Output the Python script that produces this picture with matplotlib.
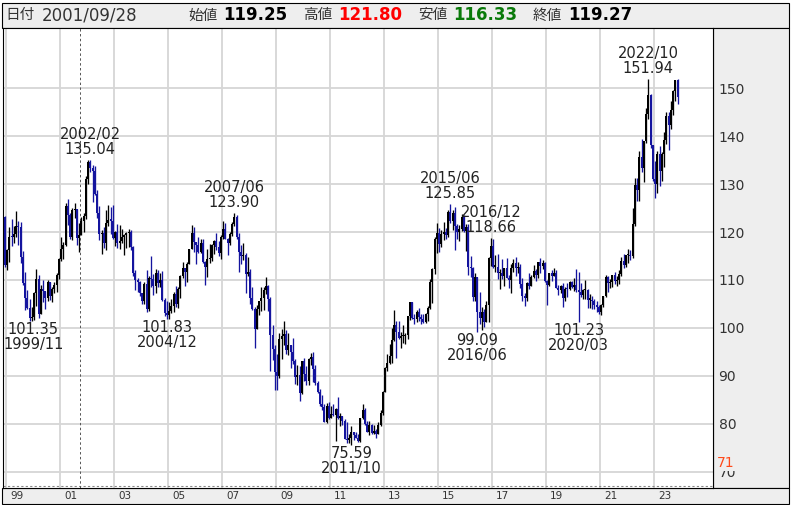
import numpy as np
import matplotlib
matplotlib.use('Agg')
import matplotlib.pyplot as plt
from matplotlib.patches import Rectangle
from matplotlib import transforms

##########################################################################
# data : USD/JPY monthly candles, first bar = 1998/12
##########################################################################
start_year, start_month = 1998, 12
first_open = 123.2

closes = [113.1,
    116.2, 119.0, 118.9, 119.5, 121.3, 121.0, 114.7, 109.4, 106.2, 104.2, 102.1, 102.2,
    107.2, 110.2, 102.8, 108.2, 107.6, 106.2, 109.5, 106.7, 108.0, 109.0, 111.0, 114.4,
    116.4, 117.3, 125.5, 123.6, 119.0, 124.6, 124.7, 118.8, 119.4, 122.3, 123.4, 131.0,
    134.6, 133.4, 132.8, 128.0, 124.0, 119.6, 119.7, 117.8, 121.8, 122.5, 122.4, 118.8,
    119.9, 117.7, 118.1, 118.9, 119.4, 119.7, 119.9, 116.9, 111.4, 110.0, 109.5, 107.2,
    105.5, 109.1, 103.9, 110.4, 110.2, 108.8, 111.5, 109.3, 110.0, 105.8, 103.1, 102.6,
    103.6, 104.6, 107.1, 104.9, 108.2, 110.9, 112.5, 111.6, 113.4, 116.4, 119.7, 117.9,
    117.2, 115.8, 117.7, 113.7, 112.6, 114.4, 114.6, 117.3, 118.1, 116.9, 115.7, 119.0,
    120.7, 118.6, 117.8, 119.5, 121.7, 123.2, 118.9, 115.8, 114.9, 115.3, 111.2, 111.7,
    106.3, 103.9, 99.7, 103.9, 105.5, 106.2, 107.8, 108.8, 106.0, 98.5, 95.5, 90.7,
    89.9, 97.6, 98.3, 98.7, 95.3, 96.4, 95.0, 93.0, 89.7, 90.1, 86.3, 93.0,
    90.3, 89.0, 93.5, 93.9, 91.3, 88.4, 86.5, 84.2, 83.5, 80.4, 83.7, 81.2,
    82.1, 81.8, 83.1, 81.2, 81.5, 80.5, 76.7, 76.6, 77.0, 78.2, 77.6, 76.9,
    76.3, 81.2, 82.8, 80.0, 78.3, 79.8, 78.1, 78.4, 77.9, 79.8, 82.2, 86.7,
    91.7, 92.6, 94.2, 97.5, 100.5, 99.1, 97.9, 98.2, 98.3, 98.4, 102.4, 105.3,
    102.0, 101.8, 103.2, 102.3, 101.8, 101.3, 102.8, 104.1, 109.6, 112.3, 118.6, 119.8,
    117.5, 119.6, 120.1, 119.4, 124.1, 122.4, 124.0, 121.2, 119.9, 120.6, 123.2, 120.2,
    121.0, 112.6, 112.5, 106.5, 110.7, 103.2, 102.1, 103.4, 101.3, 104.8, 114.5, 117.0,
    112.8, 112.8, 111.4, 111.5, 110.8, 112.4, 110.3, 110.0, 112.5, 113.6, 112.5, 112.7,
    109.2, 106.7, 106.3, 109.3, 108.8, 110.7, 111.9, 111.0, 113.7, 112.9, 113.5, 109.7,
    108.9, 111.4, 110.8, 111.4, 108.3, 107.9, 108.7, 106.3, 108.1, 108.0, 109.5, 108.6,
    108.9, 107.9, 107.5, 106.9, 107.8, 107.9, 105.9, 105.9, 105.5, 104.7, 104.3, 103.3,
    104.7, 106.6, 110.7, 109.3, 109.6, 111.1, 109.7, 110.0, 111.3, 114.0, 113.2, 115.1,
    115.1, 115.0, 121.7, 129.9, 128.7, 135.7, 133.3, 138.9, 144.7, 148.7, 138.1, 131.1,
    130.1, 136.2, 132.8, 136.3, 139.3, 144.3, 142.3, 145.5, 149.4, 151.7, 148.2]

highs = [123.4,
    116.4, 121.0, 122.7, 121.2, 124.3, 122.4, 122.0, 116.0, 111.6, 107.8, 106.0, 104.4,
    107.4, 112.2, 111.0, 108.9, 110.0, 107.7, 110.0, 109.6, 108.5, 109.5, 111.5, 114.6,
    119.0, 118.0, 126.0, 126.8, 124.0, 125.0, 126.0, 124.7, 121.8, 123.1, 124.0, 131.7,
    135.0, 135.04, 134.0, 133.8, 128.8, 125.5, 120.4, 121.0, 124.5, 125.7, 125.2, 125.7,
    120.2, 121.7, 121.5, 120.6, 119.5, 120.0, 120.6, 120.5, 117.1, 112.0, 110.5, 109.8,
    107.3, 109.6, 112.0, 110.9, 114.9, 111.3, 112.3, 112.0, 111.4, 111.8, 106.3, 105.5,
    105.3, 106.0, 107.5, 108.8, 108.6, 111.0, 113.7, 112.4, 113.8, 116.4, 121.4, 121.0,
    117.9, 119.0, 118.5, 118.6, 114.0, 116.5, 117.5, 117.4, 118.3, 119.8, 118.2, 119.4,
    122.2, 121.9, 118.8, 119.9, 122.0, 123.9, 123.6, 119.7, 117.2, 117.8, 115.6, 114.7,
    112.2, 108.6, 104.4, 104.8, 105.6, 108.6, 108.6, 110.7, 108.9, 106.5, 100.5, 96.5,
    94.6, 98.9, 99.7, 101.4, 99.5, 98.9, 96.0, 97.8, 93.4, 92.3, 92.0, 93.0,
    93.8, 92.0, 93.7, 94.7, 94.9, 92.2, 88.9, 87.2, 86.0, 84.1, 84.4, 84.5,
    83.7, 84.0, 83.3, 85.5, 82.2, 81.6, 81.0, 80.3, 77.9, 79.5, 78.3, 78.3,
    77.8, 81.2, 84.2, 83.3, 80.6, 80.6, 79.9, 79.7, 78.9, 80.4, 82.8, 86.8,
    91.8, 94.5, 96.7, 99.9, 103.7, 101.5, 101.5, 99.1, 100.6, 99.0, 102.5, 105.4,
    105.4, 102.8, 103.8, 104.1, 102.8, 102.8, 103.1, 104.5, 110.1, 112.4, 119.0, 121.9,
    120.8, 120.5, 122.0, 120.8, 124.5, 125.85, 124.6, 125.3, 121.7, 121.5, 123.8, 123.6,
    121.7, 121.7, 114.9, 112.7, 111.4, 110.5, 107.5, 104.3, 104.0, 105.5, 114.8, 118.66,
    118.6, 115.2, 115.5, 112.2, 114.4, 112.5, 114.5, 111.0, 113.3, 114.4, 114.7, 113.7,
    113.4, 110.5, 107.3, 109.6, 111.4, 111.0, 113.2, 112.2, 113.8, 114.5, 114.2, 113.8,
    110.0, 111.5, 112.1, 112.4, 112.0, 109.0, 109.0, 109.3, 108.5, 109.3, 109.7, 109.7,
    110.3, 112.2, 111.7, 109.4, 108.1, 109.9, 108.2, 107.0, 106.6, 106.1, 105.7, 104.7,
    104.9, 106.7, 110.97, 110.9, 110.2, 111.1, 111.65, 110.8, 112.1, 114.7, 115.5, 115.2,
    116.35, 116.3, 125.1, 131.25, 131.3, 137.0, 139.4, 139.1, 145.9, 151.94, 148.8, 138.2,
    134.8, 136.9, 137.9, 136.6, 140.9, 145.0, 145.1, 147.4, 149.7, 151.7, 151.9]

lows = [112.6,
    112.0, 113.8, 117.0, 117.8, 119.0, 117.3, 113.6, 109.0, 103.7, 104.0, 101.35, 101.5,
    101.6, 104.6, 102.0, 103.6, 105.4, 103.9, 105.6, 105.8, 105.3, 107.2, 107.5, 110.2,
    114.0, 114.3, 117.0, 121.5, 118.6, 118.3, 123.0, 117.2, 115.8, 119.5, 119.9, 122.8,
    130.0, 132.5, 126.3, 127.8, 122.9, 118.4, 115.5, 116.7, 116.2, 121.3, 119.5, 118.5,
    117.1, 116.7, 116.4, 117.7, 115.3, 116.7, 116.9, 116.2, 110.9, 107.9, 107.5, 106.7,
    105.0, 104.9, 103.4, 103.5, 108.6, 106.9, 107.3, 108.5, 108.6, 105.6, 102.5, 101.83,
    101.9, 103.0, 103.3, 104.4, 104.1, 106.3, 110.4, 108.7, 109.5, 113.3, 116.4, 115.9,
    113.4, 115.6, 115.7, 113.5, 108.9, 110.6, 113.5, 114.0, 115.4, 116.3, 114.9, 114.4,
    118.5, 118.5, 115.2, 117.2, 119.1, 121.2, 118.5, 111.6, 113.3, 114.2, 107.2, 110.8,
    105.0, 103.7, 95.8, 99.9, 102.6, 103.6, 103.8, 107.0, 103.5, 90.9, 93.3, 87.1,
    87.1, 89.6, 93.5, 96.5, 94.5, 94.4, 91.7, 92.5, 88.2, 88.0, 84.8, 86.1,
    88.9, 88.1, 88.1, 92.3, 88.6, 88.1, 86.3, 83.6, 82.9, 80.4, 80.2, 80.9,
    81.2, 81.5, 76.3, 81.0, 79.6, 79.7, 76.7, 75.9, 75.9, 75.59, 76.6, 76.9,
    76.1, 76.1, 80.9, 79.7, 78.2, 77.7, 77.9, 77.9, 77.1, 77.8, 79.6, 81.7,
    86.5, 90.9, 92.5, 92.6, 97.2, 93.8, 97.6, 95.8, 96.9, 96.6, 97.6, 101.6,
    101.8, 100.8, 101.2, 101.4, 100.8, 101.1, 101.1, 101.5, 104.0, 105.2, 111.2, 115.6,
    115.9, 116.9, 118.3, 118.5, 118.9, 121.9, 120.4, 116.2, 118.6, 118.1, 120.2, 119.9,
    116.0, 110.98, 110.7, 105.5, 105.5, 99.09, 100.7, 99.5, 100.1, 101.2, 101.2, 112.9,
    112.5, 111.6, 110.1, 108.1, 110.2, 108.8, 110.3, 108.3, 107.3, 111.6, 110.8, 111.4,
    108.3, 105.6, 104.6, 105.7, 108.1, 108.8, 110.3, 109.8, 110.4, 111.4, 112.3, 109.6,
    104.7, 108.7, 109.7, 110.8, 108.3, 106.8, 107.2, 104.4, 105.7, 106.5, 107.9, 108.4,
    107.6, 107.5, 101.23, 106.4, 106.0, 106.1, 104.2, 104.2, 104.0, 104.0, 103.2, 102.9,
    102.6, 104.4, 106.4, 107.5, 108.3, 108.6, 109.1, 108.7, 109.1, 110.8, 112.5, 112.6,
    113.5, 114.2, 114.6, 121.3, 126.4, 126.4, 132.5, 130.4, 138.6, 143.5, 137.5, 130.6,
    127.2, 128.1, 129.6, 130.6, 133.5, 138.4, 137.2, 141.5, 144.4, 147.3, 146.7]

peak_months = ['2002/02', '2007/06', '2015/06', '2016/12', '2022/10']
trough_months = ['1999/11', '2004/12', '2011/10', '2016/06', '2020/03']

year_ticks = list(range(1999, 2024, 2))
price_ticks = list(range(70, 151, 10))

cursor_date = '2001/09/28'
cursor_labels = ['始値', '高値', '安値', '終値']
cursor_values = ['119.25', '121.80', '116.33', '119.27']
marker_price = 71

##########################################################################
# candles
##########################################################################
W, H = 792, 505
UP, DOWN = '#000000', '#14149e'

c = np.array(closes)
o = np.r_[first_open, c[:-1]]
h = np.maximum(np.array(highs), np.maximum(o, c))
l = np.minimum(np.array(lows), np.minimum(o, c))
mon = start_month - 1 + np.arange(len(c))
t = start_year + (mon + 0.5) / 12.0


def fx(x):
    return x / W


def fy(y):
    return 1 - y / H


fig = plt.figure(figsize=(W / 100, H / 100), dpi=100)
fig.patch.set_facecolor('white')

# panels round the plot
for (x0, y0, x1, y1) in [(2, 3, 789, 28), (713, 28, 789, 488), (2, 488, 789, 504)]:
    fig.patches.append(Rectangle((fx(x0), fy(y1)), fx(x1 - x0), (y1 - y0) / H,
                                 transform=fig.transFigure, facecolor='#eeeeee',
                                 edgecolor='black', lw=0.8, zorder=-1))

ax = fig.add_axes([fx(3), fy(488), fx(713 - 3), (488 - 28) / H])
ax.set_xlim(1998.889, 2025.185)
ax.set_ylim(66.56, 162.59)

col = np.where(c >= o, UP, DOWN)
ax.vlines(t, l, h, colors=col, lw=0.95, zorder=3)
ax.bar(t, np.maximum(np.abs(c - o), 0.25), bottom=np.minimum(o, c), width=0.075,
       color=col, lw=0, zorder=3)

ax.set_xticks(year_ticks)
ax.set_yticks(price_ticks)
ax.grid(True, color='#d6d6d6', lw=1.3, zorder=0)
ax.yaxis.tick_right()
ax.tick_params(axis='y', length=0, pad=4, labelsize=10, labelcolor='#333333')
ax.tick_params(axis='x', length=0, labelbottom=False)
for sp in ax.spines.values():
    sp.set_color('black')
    sp.set_linewidth(0.8)

# year labels in the bottom bar
trans = transforms.blended_transform_factory(ax.transData, ax.transAxes)
trans = transforms.offset_copy(trans, fig=fig, x=4, y=0, units='dots')
for yr in year_ticks:
    ax.text(yr, -0.0165, '%02d' % (yr % 100), transform=trans, ha='left', va='center',
            fontsize=7.5, color='#333333', clip_on=False)

# dotted floor line and cursor line
ax.plot([0, 1], [0.004, 0.004], transform=ax.transAxes, ls=(0, (2, 2)), color='#888888', lw=0.8)
y_, m_, d_ = map(int, cursor_date.split('/'))
cursor_t = y_ + (m_ - 1 + (d_ - 0.5) / 30.5) / 12.0
ax.axvline(cursor_t, color='#555555', lw=0.7, ls=(0, (2.5, 2.5)), zorder=2)

# marker price on the right axis
tr71 = transforms.offset_copy(transforms.blended_transform_factory(ax.transAxes, ax.transData),
                              fig=fig, x=4, y=0, units='dots')
ax.text(1.0, marker_price, str(marker_price), transform=tr71, ha='left', va='baseline',
        fontsize=10, color='#ff4a1a', clip_on=False, zorder=10,
        bbox=dict(facecolor='#eeeeee', edgecolor='none', pad=0.6))


##########################################################################
# high / low labels
##########################################################################
def month_index(s):
    yy, mm = map(int, s.split('/'))
    return (yy - start_year) * 12 + (mm - start_month)


anns = []
for s in peak_months:
    i = month_index(s)
    anns.append(ax.annotate('%s\n%.2f' % (s, h[i]), xy=(t[i], h[i]), xytext=(0, 3),
                            textcoords='offset pixels', ha='center', va='bottom',
                            fontsize=10.5, color='#222222', linespacing=1.0, zorder=5))
for s in trough_months:
    i = month_index(s)
    anns.append(ax.annotate('%.2f\n%s' % (l[i], s), xy=(t[i], l[i]), xytext=(0, -1),
                            textcoords='offset pixels', ha='center', va='top',
                            fontsize=10.5, color='#222222', linespacing=1.0, zorder=5))

fig.canvas.draw()
r = fig.canvas.get_renderer()
axbb = ax.get_window_extent(r)
for a in anns:
    bb = a.get_window_extent(r)
    if bb.x0 < axbb.x0:
        dx, dy = a.xyann
        a.xyann = (dx + axbb.x0 - bb.x0, dy)

##########################################################################
# header
##########################################################################
hy = fy(15.5)
fig.text(fx(5), hy, '日付', family=['Noto Sans CJK JP', 'DejaVu Sans'], fontsize=10.5,
         color='#333333', va='center')
fig.text(fx(42), hy, cursor_date, fontsize=12, color='#333333', va='center')
val_colors = ['black', '#ff0000', '#0a7a0a', 'black']
lab_x = [188, 303, 418, 533]
for lab, val, vc, x in zip(cursor_labels, cursor_values, val_colors, lab_x):
    fig.text(fx(x), hy, lab, family=['Noto Sans CJK JP', 'DejaVu Sans'], fontsize=10.5,
             color='#333333', va='center')
    fig.text(fx(x + 35), hy, val, fontsize=12, fontweight='bold', color=vc, va='center')

fig.savefig('out.png', dpi=100)
